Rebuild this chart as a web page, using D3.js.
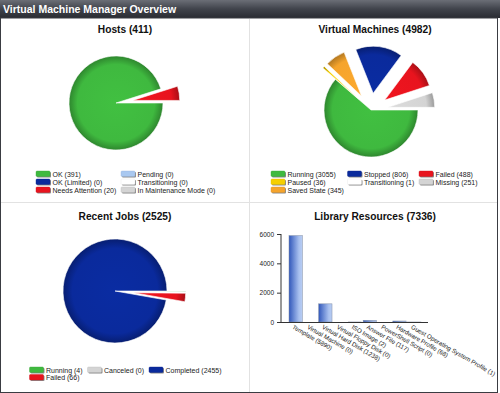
<!DOCTYPE html>
<html>
<head>
<meta charset="utf-8">
<script src="https://cdn.jsdelivr.net/npm/d3@7"></script>
<style>
  body { margin: 0; background: #fff; }
  svg { display: block; font-family: "Liberation Sans", Arial, sans-serif; }
</style>
</head>
<body>
<svg id="chart" width="500" height="393"></svg>
<script>
// data, in slice order (clockwise from 3 o'clock)
const hostLabels = ["OK", "OK (Limited)", "Needs Attention", "Pending", "Transitioning", "In Maintenance Mode"];
const hostValues = [391, 0, 20, 0, 0, 0];

const vmLabels = ["Running", "Paused", "Saved State", "Stopped", "Transitioning", "Failed", "Missing"];
const vmValues = [3055, 36, 345, 806, 1, 488, 251];

const jobLabels = ["Running", "Failed", "Canceled", "Completed"];
const jobValues = [4, 66, 0, 2455];

const libLabels = ["Template", "Virtual Machine", "Virtual Hard Disk", "Virtual Floppy Disk", "ISO Image",
  "Answer File", "PowerShell Script", "Hardware Profile", "Guest Operating System Profile"];
const libValues = [5890, 0, 1238, 0, 2, 117, 0, 68, 1];
const libTicks = [0, 2000, 4000, 6000];

// colours per status
const colors = {
  "OK": "#3fb93f", "Running": "#3fb93f",
  "OK (Limited)": "#0a2a9c", "Stopped": "#0a2a9c", "Completed": "#0a2a9c",
  "Needs Attention": "#e8141e", "Failed": "#e8141e",
  "Pending": "#a9c8f0",
  "Transitioning": "#ffffff",
  "In Maintenance Mode": "#d4d4d4", "Missing": "#d4d4d4", "Canceled": "#d4d4d4",
  "Paused": "#f5cf00",
  "Saved State": "#f5a42c"
};

const svg = d3.select("#chart");
const defs = svg.append("defs");

// header bar
const hg = defs.append("linearGradient").attr("id", "hdr").attr("x1", 0).attr("y1", 0).attr("x2", 0).attr("y2", 1);
hg.append("stop").attr("offset", 0).attr("stop-color", "#6b6e76");
hg.append("stop").attr("offset", 0.5).attr("stop-color", "#40434b");
hg.append("stop").attr("offset", 1).attr("stop-color", "#2a2c32");
svg.append("rect").attr("x", 0).attr("y", 0).attr("width", 500).attr("height", 18).attr("fill", "url(#hdr)");
svg.append("text").attr("x", 3).attr("y", 13).attr("fill", "#fff")
  .attr("font-weight", "bold").attr("font-size", 10.5).text("Virtual Machine Manager Overview");

// frame + dividers
svg.append("rect").attr("x", 0.5).attr("y", 18).attr("width", 497).attr("height", 374.5)
  .attr("fill", "none").attr("stroke", "#3a3c42");
svg.append("line").attr("x1", 249.5).attr("x2", 249.5).attr("y1", 19).attr("y2", 392).attr("stroke", "#e2e2e2");
svg.append("line").attr("x1", 1).attr("x2", 497).attr("y1", 202.5).attr("y2", 202.5).attr("stroke", "#e2e2e2");

function title(x, y, t) {
  svg.append("text").attr("x", x).attr("y", y).attr("text-anchor", "middle")
    .attr("font-weight", "bold").attr("font-size", 10.2).attr("fill", "#111").text(t);
}
title(125, 33, "Hosts (411)");
title(375, 33, "Virtual Machines (4982)");
title(125, 220, "Recent Jobs (2525)");
title(375, 220, "Library Resources (7336)");

function gradFor(color, r) {
  const id = "g" + color.slice(1) + "_" + r;
  if (defs.select("#" + id).empty()) {
    const g = defs.append("radialGradient").attr("id", id)
      .attr("gradientUnits", "userSpaceOnUse").attr("cx", 0).attr("cy", 0).attr("r", r);
    g.append("stop").attr("offset", 0).attr("stop-color", d3.color(color).brighter(0.1));
    g.append("stop").attr("offset", 0.82).attr("stop-color", color);
    g.append("stop").attr("offset", 1).attr("stop-color", d3.color(color).darker(0.9));
  }
  return "url(#" + id + ")";
}

function pie(labels, values, cx, cy, r) {
  const arcs = d3.pie().sort(null).startAngle(Math.PI / 2).endAngle(Math.PI / 2 + 2 * Math.PI)(values);
  const maxV = d3.max(values);
  const arc = d3.arc().innerRadius(0).outerRadius(r);
  const off = r * 0.36;
  const g = svg.append("g").attr("transform", `translate(${cx},${cy})`);
  g.selectAll("path").data(arcs.filter(d => d.value > 0)).join("path")
    .attr("transform", d => {
      if (d.value === maxV) return null;
      const a = (d.startAngle + d.endAngle) / 2;
      return `translate(${off * Math.sin(a)},${-off * Math.cos(a)})`;
    })
    .attr("d", arc)
    .attr("fill", d => gradFor(colors[labels[d.index]], r))
    .attr("stroke", "#fff").attr("stroke-width", 0.6);
}

// cols: list of columns, each a list of item indexes
function legend(labels, values, cols, colX, rowY) {
  cols.forEach((col, ci) => col.forEach((i, ri) => {
    const x = colX[ci], y = rowY[ri];
    const l = labels[i], c = colors[l];
    svg.append("rect").attr("x", x + 1).attr("y", y + 1).attr("width", 14).attr("height", 5.5)
      .attr("rx", 1).attr("fill", "#8a8a8a");
    svg.append("rect").attr("x", x).attr("y", y).attr("width", 14).attr("height", 5.5)
      .attr("rx", 1).attr("fill", c).attr("stroke", d3.color(c).darker(0.3)).attr("stroke-width", 0.4);
    svg.append("text").attr("x", x + 16.5).attr("y", y + 5.6).attr("font-size", 7).attr("fill", "#222")
      .text(`${l} (${values[i]})`);
  }));
}

pie(hostLabels, hostValues, 116, 103, 47);
legend(hostLabels, hostValues, [[0, 1, 2], [3, 4, 5]], [36, 121], [171, 179, 187]);

pie(vmLabels, vmValues, 371, 110, 47);
legend(vmLabels, vmValues, [[0, 1, 2], [3, 4], [5, 6]], [271, 347.5, 419], [171, 179, 187]);

pie(jobLabels, jobValues, 115, 291, 52);
legend(jobLabels, jobValues, [[0, 1], [2], [3]], [29.5, 87.5, 149], [367, 374.5]);

// library resources bar chart
const x = d3.scaleBand().domain(libLabels).range([289, 421]).paddingInner(0.1);
const y = d3.scaleLinear().domain([0, 6000]).range([322, 234]);

const bg = defs.append("linearGradient").attr("id", "bar").attr("x1", 0).attr("x2", 1).attr("y1", 0).attr("y2", 0);
bg.append("stop").attr("offset", 0).attr("stop-color", "#3258bb");
bg.append("stop").attr("offset", 0.75).attr("stop-color", "#a8c0ef");
bg.append("stop").attr("offset", 1).attr("stop-color", "#b8cdf3");

svg.append("g").selectAll("rect").data(libValues).join("rect")
  .attr("x", (d, i) => x(libLabels[i]))
  .attr("y", d => y(d))
  .attr("width", x.bandwidth())
  .attr("height", d => y(0) - y(d))
  .attr("fill", "url(#bar)")
  .attr("stroke", "#7f8ba3").attr("stroke-width", 0.5);

const yAxis = svg.append("g").attr("transform", "translate(281,0)")
  .call(d3.axisLeft(y).tickValues(libTicks).tickSize(4).tickFormat(d3.format("d")));
yAxis.selectAll("text").attr("font-size", 6.5).attr("fill", "#222").attr("font-family", "Liberation Sans, Arial");
yAxis.selectAll("line, path").attr("stroke", "#333");
yAxis.select(".domain").attr("d", "M0,234V322");

svg.append("line").attr("x1", 281).attr("x2", 428).attr("y1", 322.5).attr("y2", 322.5).attr("stroke", "#333");

svg.append("g").selectAll("text").data(libLabels).join("text")
  .attr("transform", d => `translate(${x(d) + x.bandwidth() / 2 - 2},${325}) rotate(30)`)
  .attr("dy", "0.6em")
  .attr("font-size", 6.2).attr("fill", "#222")
  .text((d, i) => `${d} (${libValues[i]})`);
</script>
</body>
</html>
